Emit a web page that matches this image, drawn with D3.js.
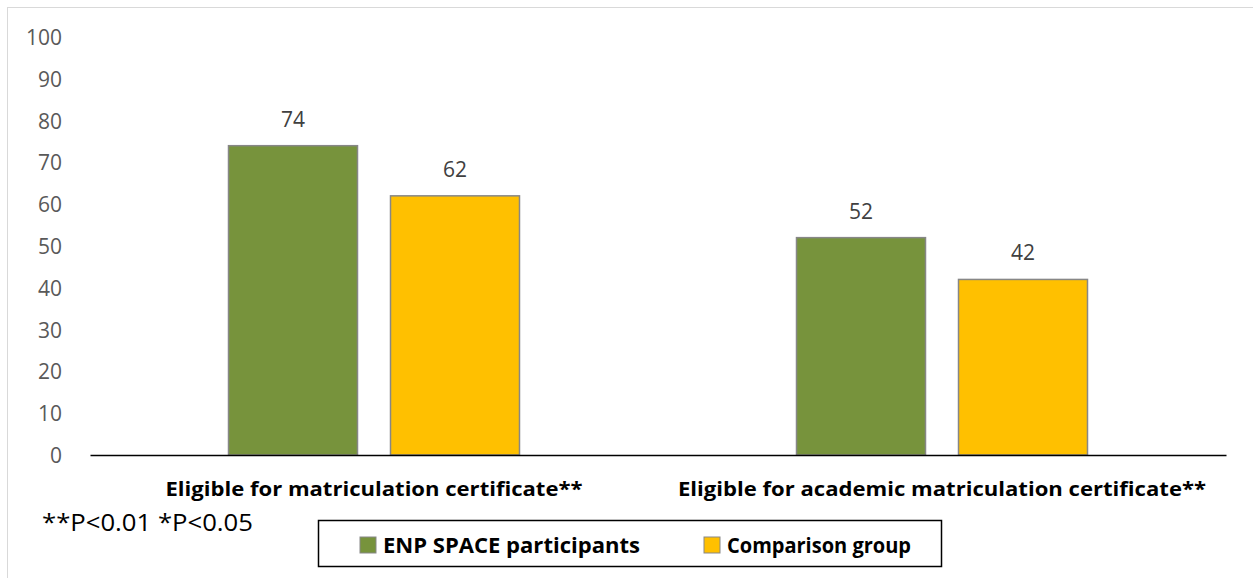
<!DOCTYPE html>
<html>
<head>
<meta charset="utf-8">
<script src="https://cdn.jsdelivr.net/npm/d3@7"></script>
<style>
  html, body { margin: 0; padding: 0; background: #fff; }
  svg { display: block; }
</style>
</head>
<body>
<svg id="chart" width="1253" height="578"></svg>
<script>
// Chart data
const categories = [
  "Eligible for matriculation certificate**",
  "Eligible for academic matriculation certificate**"
];
const seriesNames = ["ENP SPACE participants", "Comparison group"];
const participants = [74, 52]; // ENP SPACE participants (%)
const comparison = [62, 42];   // Comparison group (%)
const yTicks = [0, 10, 20, 30, 40, 50, 60, 70, 80, 90, 100];
const footnote = "**P<0.01 *P<0.05";

const colors = ["#77933C", "#FFC000"];
const series = [participants, comparison];

const svg = d3.select("#chart");
const font = "'Open Sans', sans-serif";

// Outer frame
svg.append("rect")
  .attr("x", 7.5).attr("y", 7.5)
  .attr("width", 1260).attr("height", 600)
  .attr("fill", "none").attr("stroke", "#d9d9d9").attr("stroke-width", 1);

const plot = { left: 90, right: 1226, top: 37, bottom: 455 };

const x0 = d3.scaleBand()
  .domain(categories)
  .range([plot.left, plot.right]);

const barW = 129, barGap = 33;
const x1 = d3.scaleOrdinal()
  .domain([0, 1])
  .range([-(barW + barGap / 2), barGap / 2]);

const y = d3.scaleLinear().domain([0, 100]).range([plot.bottom, plot.top]);

// Y axis labels (no axis line)
const yAxis = d3.axisLeft(y).tickValues(yTicks).tickSize(0).tickPadding(0);
const yg = svg.append("g").attr("transform", "translate(62,0)").call(yAxis);
yg.select(".domain").remove();
yg.selectAll("text")
  .attr("font-family", font)
  .attr("font-size", 21)
  .attr("fill", "#595959")
  .attr("dy", "0.36em");

// Bars and value labels
categories.forEach((c, i) => {
  series.forEach((s, k) => {
    const bx = x0(c) + x0.bandwidth() / 2 + x1(k);
    svg.append("rect")
      .attr("x", bx)
      .attr("y", y(s[i]))
      .attr("width", barW)
      .attr("height", y(0) - y(s[i]))
      .attr("fill", colors[k])
      .attr("stroke", "#878787")
      .attr("stroke-width", 1.5);
    svg.append("text")
      .attr("x", bx + barW / 2)
      .attr("y", y(s[i]) - 19)
      .attr("text-anchor", "middle")
      .attr("font-family", font)
      .attr("font-size", 21)
      .attr("fill", "#404040")
      .text(s[i]);
  });
});

// X axis line and category labels
const xAxis = d3.axisBottom(x0).tickSize(0).tickPadding(0);
const xg = svg.append("g").attr("transform", `translate(0,${plot.bottom})`).call(xAxis);
xg.select(".domain").attr("stroke", "#000").attr("stroke-width", 1.5);
const catWidths = [417, 528];
xg.selectAll("text")
  .attr("y", 41)
  .attr("dy", 0)
  .attr("font-family", font)
  .attr("font-size", 19)
  .attr("font-weight", "bold")
  .attr("fill", "#000")
  .attr("textLength", (d, i) => catWidths[i])
  .attr("lengthAdjust", "spacingAndGlyphs");

// Footnote
svg.append("text")
  .attr("x", 42).attr("y", 531)
  .attr("font-family", font)
  .attr("font-size", 23)
  .attr("fill", "#000")
  .attr("textLength", 211)
  .attr("lengthAdjust", "spacingAndGlyphs")
  .text(footnote);

// Legend
const lg = svg.append("g");
lg.append("rect")
  .attr("x", 318.5).attr("y", 520.5)
  .attr("width", 623).attr("height", 46)
  .attr("fill", "#fff").attr("stroke", "#000").attr("stroke-width", 1.5);
const legendX = [360, 704];
const legendW = [257, 184];
seriesNames.forEach((n, k) => {
  lg.append("rect")
    .attr("x", legendX[k]).attr("y", 537)
    .attr("width", 16).attr("height", 16)
    .attr("fill", colors[k]).attr("stroke", "#878787").attr("stroke-width", 1);
  lg.append("text")
    .attr("x", legendX[k] + 23).attr("y", 553)
    .attr("font-family", font)
    .attr("font-size", 21)
    .attr("font-weight", "bold")
    .attr("fill", "#000")
    .attr("textLength", legendW[k])
    .attr("lengthAdjust", "spacingAndGlyphs")
    .text(n);
});
</script>
</body>
</html>
